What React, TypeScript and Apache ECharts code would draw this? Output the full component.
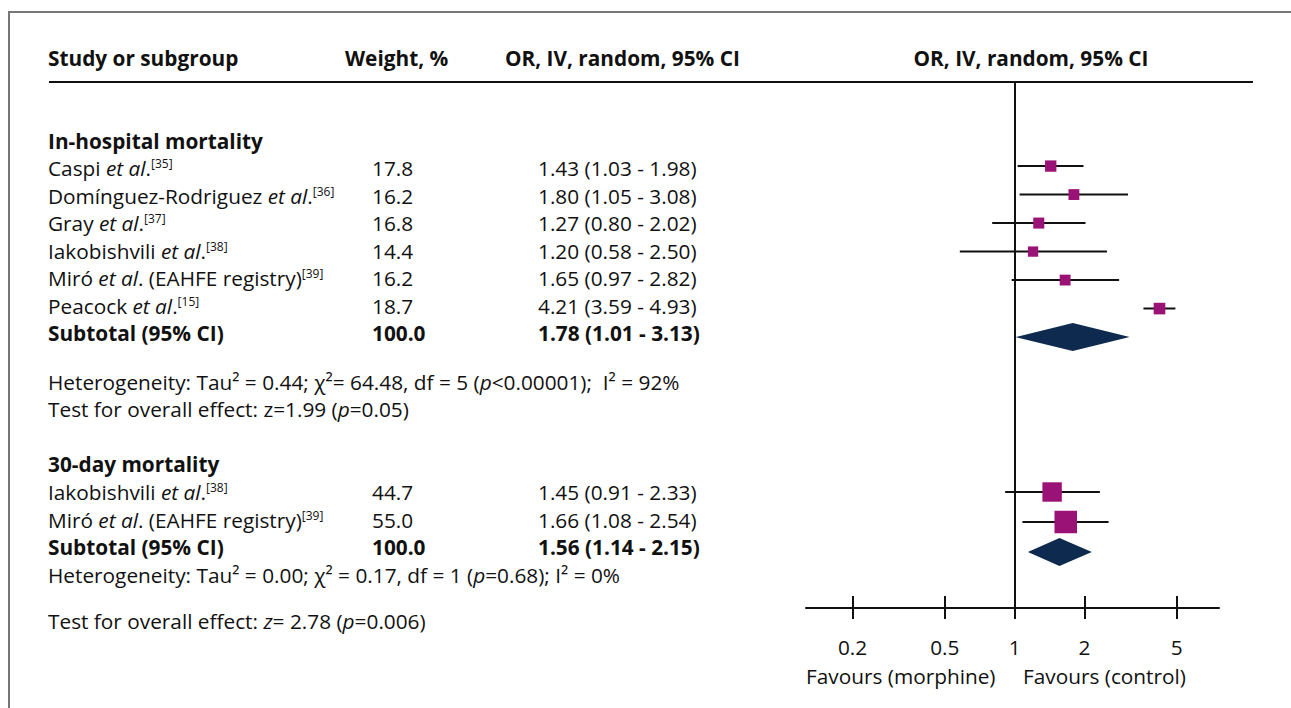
import React, { useEffect, useRef } from "react";
import * as echarts from "echarts";

// ---------- data ----------
const inHospNames = ["Caspi", "Domínguez-Rodriguez", "Gray", "Iakobishvili", "Miró", "Peacock"];
const inHospSuffix = ["", "", "", "", " (EAHFE registry)", ""];
const inHospRefs = ["35", "36", "37", "38", "39", "15"];
const inHospWeight = [17.8, 16.2, 16.8, 14.4, 16.2, 18.7];
const inHospOR = [1.43, 1.8, 1.27, 1.2, 1.65, 4.21];
const inHospLo = [1.03, 1.05, 0.8, 0.58, 0.97, 3.59];
const inHospHi = [1.98, 3.08, 2.02, 2.5, 2.82, 4.93];
const inHospTotal = [1.78, 1.01, 3.13]; // OR, lo, hi
const inHospTotalWeight = 100.0;

const d30Names = ["Iakobishvili", "Miró"];
const d30Suffix = ["", " (EAHFE registry)"];
const d30Refs = ["38", "39"];
const d30Weight = [44.7, 55.0];
const d30OR = [1.45, 1.66];
const d30Lo = [0.91, 1.08];
const d30Hi = [2.33, 2.54];
const d30Total = [1.56, 1.14, 2.15];
const d30TotalWeight = 100.0;

const tickValues = [0.2, 0.5, 1, 2, 5];
const axisMin = 0.126;
const axisMax = 7.6;

const het1 = "Heterogeneity: Tau² = 0.44; χ²= 64.48, df = 5 ({i|p}<0.00001);  I² = 92%";
const test1 = "Test for overall effect: z=1.99 ({i|p}=0.05)";
const het2 = "Heterogeneity: Tau² = 0.00; χ² = 0.17, df = 1 ({i|p}=0.68); I² = 0%";
const test2 = "Test for overall effect: {i|z}= 2.78 ({i|p}=0.006)";

// ---------- styles ----------
const FONT = "'Open Sans', 'Noto Sans', sans-serif";
const FS = 20.8;
const PURPLE = "#9b1277";
const NAVY = "#0e2b4f";
const TXT = "#111";

const rich = {
  i: { fontFamily: FONT, fontSize: FS, fontStyle: "italic", fill: TXT },
  s: { fontFamily: FONT, fontSize: 12, verticalAlign: "top", fill: TXT },
};

const lg = (v: number) => Math.log10(v);
const fmtCI = (o: number, l: number, h: number) =>
  `${o.toFixed(2)} (${l.toFixed(2)} - ${h.toFixed(2)})`;

function textEl(x: number, y: number, text: string, bold = false, align = "left") {
  return {
    type: "text",
    x,
    y,
    silent: true,
    style: {
      text,
      fontFamily: FONT,
      fontSize: FS,
      fontWeight: bold ? "bold" : "normal",
      fill: TXT,
      align,
      verticalAlign: "middle",
      rich,
    },
  };
}

export default function App() {
  const ref = useRef<HTMLDivElement>(null);

  useEffect(() => {
    document.body.style.margin = "0";
    if (!ref.current) return;
    const chart = echarts.init(ref.current, null, { renderer: "svg" });

    const COL_NAME = 48;
    const COL_W = 372;
    const COL_OR = 538;

    // row centres for the text table
    const g1Rows = [168, 196, 223, 251, 278, 306];
    const g1TotalY = 333;
    const g2Rows = [492, 520];
    const g2TotalY = 547;

    const graphics: any[] = [];
    // frame
    graphics.push({
      type: "polyline",
      silent: true,
      shape: { points: [[9, 708], [9, 12], [1291, 12]] },
      style: { stroke: "#777", lineWidth: 2, fill: "none" },
    });
    // header rule
    graphics.push({
      type: "line",
      silent: true,
      shape: { x1: 49, y1: 82, x2: 1253, y2: 82 },
      style: { stroke: "#111", lineWidth: 2 },
    });
    graphics.push(textEl(COL_NAME, 58, "Study or subgroup", true));
    graphics.push(textEl(345, 58, "Weight, %", true));
    graphics.push(textEl(505, 58, "OR, IV, random, 95% CI", true));
    graphics.push(textEl(1031, 58, "OR, IV, random, 95% CI", true, "center"));

    graphics.push(textEl(COL_NAME, 141, "In-hospital mortality", true));
    inHospNames.forEach((nm, k) => {
      const y = g1Rows[k];
      graphics.push(textEl(COL_NAME, y, `${nm} {i|et al}.${inHospSuffix[k]}{s|[${inHospRefs[k]}]}`));
      graphics.push(textEl(COL_W, y, inHospWeight[k].toFixed(1)));
      graphics.push(textEl(COL_OR, y, fmtCI(inHospOR[k], inHospLo[k], inHospHi[k])));
    });
    graphics.push(textEl(COL_NAME, g1TotalY, "Subtotal (95% CI)", true));
    graphics.push(textEl(COL_W, g1TotalY, inHospTotalWeight.toFixed(1), true));
    graphics.push(textEl(COL_OR, g1TotalY, fmtCI(inHospTotal[0], inHospTotal[1], inHospTotal[2]), true));
    graphics.push(textEl(COL_NAME, 382, het1));
    graphics.push(textEl(COL_NAME, 409, test1));

    graphics.push(textEl(COL_NAME, 464, "30-day mortality", true));
    d30Names.forEach((nm, k) => {
      const y = g2Rows[k];
      graphics.push(textEl(COL_NAME, y, `${nm} {i|et al}.${d30Suffix[k]}{s|[${d30Refs[k]}]}`));
      graphics.push(textEl(COL_W, y, d30Weight[k].toFixed(1)));
      graphics.push(textEl(COL_OR, y, fmtCI(d30OR[k], d30Lo[k], d30Hi[k])));
    });
    graphics.push(textEl(COL_NAME, g2TotalY, "Subtotal (95% CI)", true));
    graphics.push(textEl(COL_W, g2TotalY, d30TotalWeight.toFixed(1), true));
    graphics.push(textEl(COL_OR, g2TotalY, fmtCI(d30Total[0], d30Total[1], d30Total[2]), true));
    graphics.push(textEl(COL_NAME, 575, het2));
    graphics.push(textEl(COL_NAME, 621, test2));

    graphics.push(textEl(806, 676, "Favours (morphine)"));
    graphics.push(textEl(1023, 676, "Favours (control)"));

    // series data: [log OR, log lo, log hi, row, weight, isTotal]
    const g1Data = inHospOR.map((o, k) => [lg(o), lg(inHospLo[k]), lg(inHospHi[k]), k + 1, inHospWeight[k], 0]);
    g1Data.push([lg(inHospTotal[0]), lg(inHospTotal[1]), lg(inHospTotal[2]), inHospOR.length + 1, inHospTotalWeight, 1]);
    const g2Data = d30OR.map((o, k) => [lg(o), lg(d30Lo[k]), lg(d30Hi[k]), k + 1, d30Weight[k], 0]);
    g2Data.push([lg(d30Total[0]), lg(d30Total[1]), lg(d30Total[2]), d30OR.length + 1, d30TotalWeight, 1]);

    const renderItem = (_p: any, api: any) => {
      const est = api.value(0);
      const lo = api.value(1);
      const hi = api.value(2);
      const row = api.value(3);
      const w = api.value(4);
      const total = api.value(5);
      const c = api.coord([est, row]);
      const l = api.coord([lo, row]);
      const h = api.coord([hi, row]);
      if (total) {
        return {
          type: "polygon",
          shape: { points: [[l[0], c[1]], [c[0], c[1] - 14], [h[0], c[1]], [c[0], c[1] + 14]] },
          style: { fill: NAVY },
        };
      }
      const s = 6 + 0.3 * w;
      return {
        type: "group",
        children: [
          { type: "line", shape: { x1: l[0], y1: c[1], x2: h[0], y2: c[1] }, style: { stroke: "#111", lineWidth: 2 } },
          { type: "rect", shape: { x: c[0] - s / 2, y: c[1] - s / 2, width: s, height: s }, style: { fill: PURPLE } },
        ],
      };
    };

    const refLine = {
      silent: true,
      symbol: "none",
      label: { show: false },
      lineStyle: { color: "#111", width: 2, type: "solid" },
      data: [{ xAxis: 0 }],
    };

    const xMin = lg(axisMin);
    const xMax = lg(axisMax);
    const tickLogs = tickValues.map(lg);
    const fmtTick = (v: number) => {
      const r = Math.pow(10, v);
      return String(Math.round(r * 10) / 10);
    };

    const option: any = {
      animation: false,
      textStyle: { fontFamily: FONT },
      graphic: graphics,
      grid: [
        { left: 806, right: 72, top: 82, height: 338 },
        { left: 806, right: 72, top: 420, height: 188 },
      ],
      xAxis: [
        { gridIndex: 0, type: "value", min: xMin, max: xMax, show: false },
        {
          gridIndex: 1,
          type: "value",
          position: "bottom",
          min: xMin,
          max: xMax,
          axisLine: { show: true, onZero: false, lineStyle: { color: "#111", width: 2 } },
          axisTick: { show: true, customValues: tickLogs, length: 11, lineStyle: { color: "#111", width: 2 } },
          axisLabel: {
            show: true,
            customValues: tickLogs,
            formatter: fmtTick,
            margin: 28,
            fontSize: FS,
            fontFamily: FONT,
            color: TXT,
          },
          splitLine: { show: false },
        },
        {
          gridIndex: 1,
          type: "value",
          position: "bottom",
          min: xMin,
          max: xMax,
          axisLine: { show: false, onZero: false },
          axisTick: { show: true, inside: true, customValues: tickLogs, length: 12, lineStyle: { color: "#111", width: 2 } },
          axisLabel: { show: false },
          splitLine: { show: false },
        },
      ],
      yAxis: [
        { gridIndex: 0, type: "value", inverse: true, min: -1.95, max: -1.95 + 338 / 28.5, show: false },
        { gridIndex: 1, type: "value", inverse: true, min: -1.4, max: -1.4 + 188 / 30, show: false },
      ],
      series: [
        {
          type: "custom",
          xAxisIndex: 0,
          yAxisIndex: 0,
          renderItem,
          data: g1Data,
          markLine: refLine,
          clip: false,
        },
        {
          type: "custom",
          xAxisIndex: 1,
          yAxisIndex: 1,
          renderItem,
          data: g2Data,
          markLine: refLine,
          clip: false,
        },
      ],
    };
    chart.setOption(option);
    return () => chart.dispose();
  }, []);

  return <div ref={ref} style={{ width: 1291, height: 708 }} />;
}
